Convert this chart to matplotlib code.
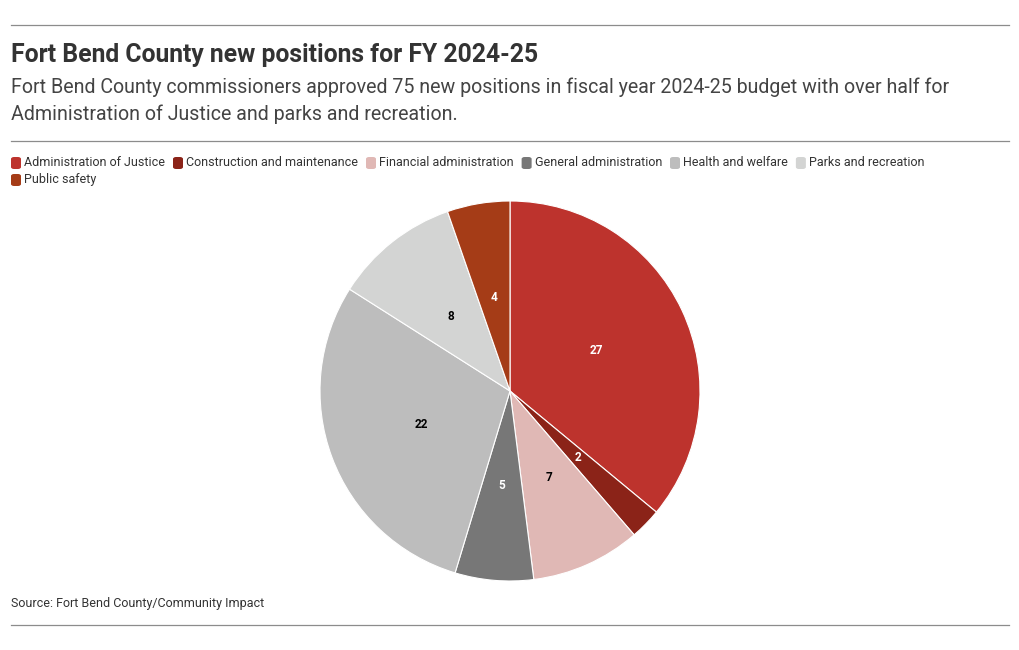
import matplotlib.pyplot as plt
from matplotlib.patches import FancyBboxPatch
from matplotlib.lines import Line2D

plt.rcParams["font.family"] = ["Roboto", "DejaVu Sans"]

categories = [
    "Administration of Justice",
    "Construction and maintenance",
    "Financial administration",
    "General administration",
    "Health and welfare",
    "Parks and recreation",
    "Public safety",
]
positions = [27, 2, 7, 5, 22, 8, 4]
colors = ["#bd332d", "#8b2318", "#e0b8b5", "#777777", "#bdbdbd", "#d3d4d3", "#a53c17"]
label_colors = ["white", "white", "black", "white", "black", "black", "white"]

W, H = 1020, 650
fig = plt.figure(figsize=(W / 100, H / 100), dpi=100)


def fx(px):
    return px / W


def fy(py):
    return 1 - py / H


# rules
for y in (25, 141, 625):
    fig.add_artist(Line2D([fx(11), fx(1009)], [fy(y), fy(y)], color="#8c8c8c", lw=0.9))

fig.text(fx(11), fy(55), "Fort Bend County new positions for FY 2024-25",
         fontsize=17.8, fontweight="bold", color="#333333", va="center")
fig.text(fx(11), fy(87), "Fort Bend County commissioners approved 75 new positions in fiscal year 2024-25 budget with over half for",
         fontsize=14.1, color="#444444", va="center")
fig.text(fx(11), fy(114), "Administration of Justice and parks and recreation.",
         fontsize=14.1, color="#444444", va="center")
fig.text(fx(11), fy(603), "Source: Fort Bend County/Community Impact",
         fontsize=9, color="#333333", va="center")

# legend, laid out as flowing rows
fig.canvas.draw()
renderer = fig.canvas.get_renderer()
x, row_y = 11, 163
for cat, col in zip(categories, colors):
    t = fig.text(0, 0, cat, fontsize=9, color="#333333", va="center")
    w = t.get_window_extent(renderer).width
    if x + 13 + w > 960:
        x, row_y = 11, row_y + 17
    fig.add_artist(FancyBboxPatch((fx(x), fy(row_y + 6)), fx(10), 12 / H,
                                  boxstyle="round,pad=0,rounding_size=0.003",
                                  transform=fig.transFigure, facecolor=col, edgecolor="none"))
    t.set_position((fx(x + 13), fy(row_y)))
    x += 13 + w + 8

# pie
ax = fig.add_axes([fx(320), 69 / H, 380 / W, 380 / H])
wedges, texts = ax.pie(positions, colors=colors, startangle=90, counterclock=False,
                       labels=[str(v) for v in positions], labeldistance=0.5,
                       wedgeprops=dict(edgecolor="white", linewidth=0.8))
for t, c in zip(texts, label_colors):
    t.set_color(c)
    t.set_fontsize(8.5)
    t.set_fontweight("bold")
    t.set_ha("center")
    t.set_va("center")
ax.set_xlim(-1, 1)
ax.set_ylim(-1, 1)
ax.set_aspect("equal")
ax.axis("off")

fig.savefig("out.png", dpi=100)
